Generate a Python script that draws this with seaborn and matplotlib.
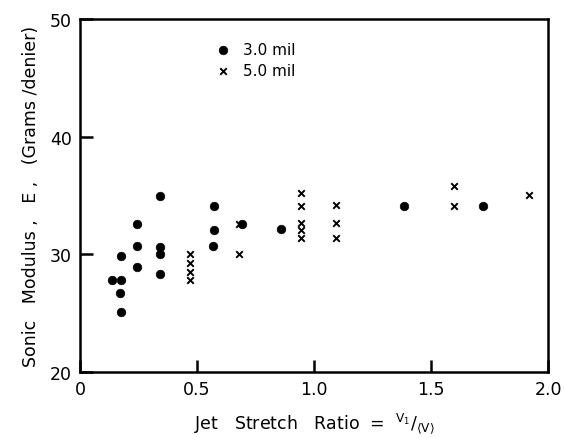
import pandas as pd
import numpy as np
import matplotlib
matplotlib.use("Agg")
import matplotlib.pyplot as plt
import seaborn as sns

# ==========================================
# Data
# ==========================================

x_3mil = [0.135, 0.174, 0.174, 0.171, 0.175, 0.242, 0.244, 0.244,
          0.342, 0.342, 0.343, 0.342, 0.571, 0.573, 0.568, 0.69,
          0.859, 1.386, 1.72]
y_3mil = [27.8, 29.9, 27.8, 26.7, 25.1, 32.6, 30.7, 28.9,
          34.95, 30.65, 30.0, 28.35, 34.1, 32.1, 30.7, 32.6,
          32.15, 34.1, 34.1]

x_5mil = [0.47, 0.47, 0.47, 0.47, 0.681, 0.68,
          0.943, 0.943, 0.943, 0.943, 0.943,
          1.094, 1.094, 1.094, 1.597, 1.597, 1.917]
y_5mil = [30.0, 29.3, 28.5, 27.8, 30.0, 32.6,
          35.2, 34.1, 32.7, 32.1, 31.4,
          34.2, 32.7, 31.4, 35.8, 34.1, 35.0]

df = pd.DataFrame({
    "ratio": x_3mil + x_5mil,
    "modulus": y_3mil + y_5mil,
    "fiber": ["3.0 mil"] * len(x_3mil) + ["5.0 mil"] * len(x_5mil),
})

x_ticks = [0, 0.5, 1.0, 1.5, 2.0]
x_tick_labels = ["0", "0.5", "1.0", "1.5", "2.0"]
y_ticks = [20, 30, 40, 50]

# ==========================================
# Plot
# ==========================================

sns.set_style("ticks")
plt.rcParams["font.family"] = ["DejaVu Sans"]
plt.rcParams["text.color"] = "black"
plt.rcParams["axes.labelcolor"] = "black"

fig = plt.figure(figsize=(5.64, 4.39), dpi=100)
ax = fig.add_axes([0.142, 0.15, 0.83, 0.805])

sns.scatterplot(
    data=df[df["fiber"] == "3.0 mil"], x="ratio", y="modulus",
    marker="o", color="black", s=38, edgecolor="black", ax=ax,
    label="3.0 mil"
)
sns.scatterplot(
    data=df[df["fiber"] == "5.0 mil"], x="ratio", y="modulus",
    marker="x", color="black", s=22, linewidth=1.4, ax=ax,
    label="5.0 mil"
)

ax.set_xlim(0, 2.0)
ax.set_ylim(20, 50)
ax.set_xticks(x_ticks)
ax.set_xticklabels(x_tick_labels)
ax.set_yticks(y_ticks)

ax.tick_params(direction="in", length=9, width=1.8, labelsize=12.5,
               pad=6, colors="black")
for side in ["left", "right", "top", "bottom"]:
    ax.spines[side].set_linewidth(1.8)
    ax.spines[side].set_color("black")

ax.set_xlabel(r"Jet   Stretch   Ratio  =  $^{\mathsf{V_1}}/_{\mathsf{\langle V\rangle}}$",
              fontsize=12.5, labelpad=9)
ax.set_ylabel("Sonic   Modulus ,   E ,   (Grams /denier)", fontsize=12.5,
              labelpad=7)

ax.legend(loc="upper left", bbox_to_anchor=(0.27, 0.955), frameon=False,
          fontsize=11, handletextpad=0.7, labelspacing=0.4, borderpad=0,
          handlelength=1.2)

plt.savefig("out.png", dpi=100)
